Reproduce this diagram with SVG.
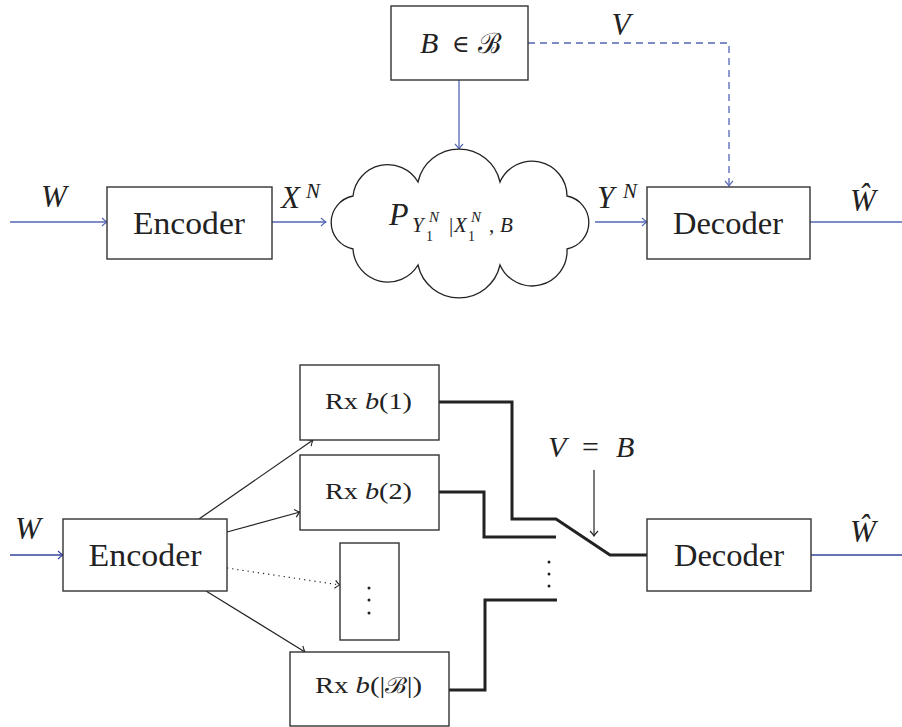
<svg xmlns="http://www.w3.org/2000/svg" width="902" height="727" viewBox="0 0 902 727">
  <style>
    .box { fill: #fff; stroke: #333; stroke-width: 1.4; }
    .cloud { fill: #fff; stroke: #222; stroke-width: 1.3; }
    .rm { font-family: "Liberation Serif", "DejaVu Serif", serif; fill: #222; }
    .it { font-family: "Liberation Serif", "DejaVu Serif", serif; font-style: italic; fill: #222; }
    .cal { font-family: "DejaVu Serif", serif; fill: #222; }
    .blue { fill: none; stroke: #5366b6; stroke-width: 1.3; }
    .blue2 { fill: none; stroke: #33449c; stroke-width: 1.3; }
    .thin { fill: none; stroke: #222; stroke-width: 1.2; }
    .thick { fill: none; stroke: #222; stroke-width: 3; }
    .dot { fill: #222; }
  </style>
  <defs>
    <marker id="ahBlue" viewBox="-7 -6 8 12" markerWidth="8" markerHeight="12" refX="0" refY="0" orient="auto" markerUnits="userSpaceOnUse">
      <path d="M-5,-4 Q-2,-1 0,0 Q-2,1 -5,4" fill="none" stroke="#5366b6" stroke-width="1.1"/>
    </marker>
    <marker id="ahBlue2" viewBox="-7 -6 8 12" markerWidth="8" markerHeight="12" refX="0" refY="0" orient="auto" markerUnits="userSpaceOnUse">
      <path d="M-5,-4 Q-2,-1 0,0 Q-2,1 -5,4" fill="none" stroke="#33449c" stroke-width="1.1"/>
    </marker>
    <marker id="ahBlack" viewBox="-7 -6 8 12" markerWidth="8" markerHeight="12" refX="0" refY="0" orient="auto" markerUnits="userSpaceOnUse">
      <path d="M-5,-4 Q-2,-1 0,0 Q-2,1 -5,4" fill="none" stroke="#222" stroke-width="1.1"/>
    </marker>
  </defs>

  <!-- ===== Upper system: encoder, channel cloud, decoder ===== -->
  <g id="connectors-top">
    <line class="blue" x1="10" y1="222" x2="107" y2="222" marker-end="url(#ahBlue)"/>
    <line class="blue" x1="272" y1="222" x2="326" y2="222" marker-end="url(#ahBlue)"/>
    <line class="blue" x1="595" y1="222" x2="647" y2="222" marker-end="url(#ahBlue)"/>
    <line class="blue" x1="810" y1="222" x2="902" y2="222"/>
    <line class="blue" x1="459" y1="80" x2="459" y2="149" marker-end="url(#ahBlue)"/>
    <path class="blue" d="M528,43 H729 V186" stroke-dasharray="7 5" marker-end="url(#ahBlue)"/>
  </g>

  <g id="label-W-top"><text class="it" x="54" y="207" font-size="31" text-anchor="middle">W</text></g>
  <g id="label-XN">
    <text class="it" x="281" y="208" font-size="31">X</text>
    <text class="it" x="306" y="198" font-size="21">N</text>
  </g>
  <g id="label-YN">
    <text class="it" x="597" y="208" font-size="31">Y</text>
    <text class="it" x="623" y="198" font-size="21">N</text>
  </g>
  <g id="label-V"><text class="it" x="621" y="35" font-size="31" text-anchor="middle">V</text></g>
  <g id="label-What-top"><text class="it" x="863" y="211" font-size="31" text-anchor="middle">Ŵ</text></g>

  <g id="state-box">
    <rect class="box" x="391" y="6" width="137" height="74"/>
    <text class="it" x="420" y="53" font-size="30">B</text>
    <text class="cal" x="452" y="52" font-size="24">∈</text>
    <text class="cal" x="478" y="53" font-size="28">ℬ</text>
  </g>

  <g id="encoder-top">
    <rect class="box" x="107" y="187" width="165" height="72"/>
    <text class="rm" x="189" y="234" font-size="31" text-anchor="middle" textLength="112" lengthAdjust="spacingAndGlyphs">Encoder</text>
  </g>

  <g id="channel">
    <path class="cloud" d="M353,196 A35,35 0 0 1 418,182 A42,42 0 0 1 500,182 A35,35 0 0 1 567,196 A27,27 0 0 1 567,249 A35,35 0 0 1 500,265 A42,42 0 0 1 418,265 A35,35 0 0 1 353,249 A27,27 0 0 1 353,196 Z"/>
    <text class="it" x="389" y="225" font-size="32">P</text>
    <text class="it" x="412" y="232" font-size="21">Y</text>
    <text class="rm" x="426" y="241" font-size="14">1</text>
    <text class="it" x="429" y="222" font-size="15">N</text>
    <text class="rm" x="449" y="232" font-size="21">|</text>
    <text class="it" x="454" y="232" font-size="21">X</text>
    <text class="rm" x="468" y="241" font-size="14">1</text>
    <text class="it" x="471" y="222" font-size="15">N</text>
    <text class="rm" x="489" y="232" font-size="21">,</text>
    <text class="it" x="500" y="232" font-size="21">B</text>
  </g>

  <g id="decoder-top">
    <rect class="box" x="647" y="187" width="163" height="72"/>
    <text class="rm" x="728" y="234" font-size="31" text-anchor="middle" textLength="110" lengthAdjust="spacingAndGlyphs">Decoder</text>
  </g>

  <!-- ===== Lower system: bank of receivers with a selector switch ===== -->
  <g id="connectors-bottom">
    <line class="blue2" x1="10" y1="555" x2="63" y2="555" marker-end="url(#ahBlue2)"/>
    <line class="blue2" x1="811" y1="555" x2="902" y2="555"/>
    <line class="thin" x1="199" y1="519" x2="313" y2="440" marker-end="url(#ahBlack)"/>
    <line class="thin" x1="227" y1="532" x2="300" y2="512" marker-end="url(#ahBlack)"/>
    <line class="thin" x1="227" y1="568" x2="340" y2="585" stroke-dasharray="1.2 4" marker-end="url(#ahBlack)"/>
    <line class="thin" x1="206" y1="591" x2="305" y2="652" marker-end="url(#ahBlack)"/>
    <line class="thin" x1="594" y1="470" x2="594" y2="536" marker-end="url(#ahBlack)"/>
    <!-- receiver outputs and switch -->
    <path class="thick" d="M439,402 H512 V519 H556 L610,555 H647"/>
    <path class="thick" d="M439,492 H484 V537 H556"/>
    <path class="thick" d="M449,690 H485 V600 H557"/>
    <circle class="dot" cx="549" cy="562" r="1.5"/>
    <circle class="dot" cx="549" cy="574" r="1.5"/>
    <circle class="dot" cx="549" cy="586" r="1.5"/>
  </g>

  <g id="label-W-bottom"><text class="it" x="28" y="539" font-size="31" text-anchor="middle">W</text></g>
  <g id="label-What-bottom"><text class="it" x="863" y="542" font-size="31" text-anchor="middle">Ŵ</text></g>
  <g id="label-VB">
    <text class="it" x="548" y="457" font-size="30">V</text>
    <text class="rm" x="582" y="457" font-size="30">=</text>
    <text class="it" x="616" y="457" font-size="30">B</text>
  </g>

  <g id="encoder-bottom">
    <rect class="box" x="63" y="519" width="164" height="72"/>
    <text class="rm" x="145" y="566" font-size="31" text-anchor="middle" textLength="113" lengthAdjust="spacingAndGlyphs">Encoder</text>
  </g>

  <g id="rx-1">
    <rect class="box" x="300" y="365" width="139" height="75"/>
    <text x="325" y="409" font-size="24" textLength="87" lengthAdjust="spacingAndGlyphs"><tspan class="rm">Rx </tspan><tspan class="it">b</tspan><tspan class="rm">(1)</tspan></text>
  </g>

  <g id="rx-2">
    <rect class="box" x="300" y="455" width="139" height="75"/>
    <text x="325" y="499" font-size="24" textLength="87" lengthAdjust="spacingAndGlyphs"><tspan class="rm">Rx </tspan><tspan class="it">b</tspan><tspan class="rm">(2)</tspan></text>
  </g>

  <g id="rx-more">
    <rect class="box" x="340" y="543" width="59" height="97"/>
    <circle class="dot" cx="369" cy="588" r="1.5"/>
    <circle class="dot" cx="369" cy="600" r="1.5"/>
    <circle class="dot" cx="369" cy="613" r="1.5"/>
  </g>

  <g id="rx-last">
    <rect class="box" x="290" y="652" width="159" height="74"/>
    <text x="315" y="693" font-size="24" textLength="107" lengthAdjust="spacingAndGlyphs"><tspan class="rm">Rx </tspan><tspan class="it">b</tspan><tspan class="rm">(|</tspan><tspan class="cal" font-size="22">ℬ</tspan><tspan class="rm">|)</tspan></text>
  </g>

  <g id="decoder-bottom">
    <rect class="box" x="647" y="519" width="164" height="72"/>
    <text class="rm" x="729" y="566" font-size="31" text-anchor="middle" textLength="110" lengthAdjust="spacingAndGlyphs">Decoder</text>
  </g>
</svg>
